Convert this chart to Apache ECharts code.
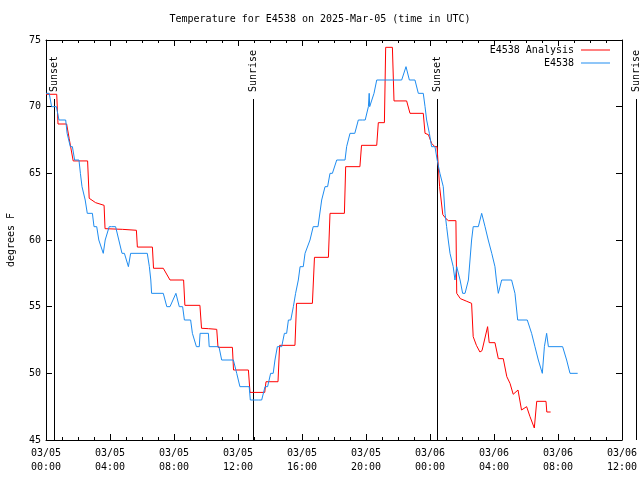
<!DOCTYPE html>
<html>
<head>
<meta charset="utf-8">
<script src="https://cdn.jsdelivr.net/npm/echarts@6/dist/echarts.min.js"></script>
<style>html,body{margin:0;padding:0;background:#fff}#c{width:640px;height:480px}</style>
</head>
<body>
<div id="c"></div>
<script>
// Hours since 2025-03-05 00:00 UTC
const titleText = 'Temperature for E4538 on 2025-Mar-05 (time in UTC)';
const xTickLabels = ['03/05\n00:00','03/05\n04:00','03/05\n08:00','03/05\n12:00','03/05\n16:00','03/05\n20:00','03/06\n00:00','03/06\n04:00','03/06\n08:00','03/06\n12:00'];
const yTickValues = [45, 50, 55, 60, 65, 70, 75];

const analysisHours = [0.0,0.67,0.75,1.29,1.45,1.7,2.6,2.7,3.1,3.63,3.69,4.77,4.8,5.65,5.71,6.65,6.72,7.33,7.75,8.6,8.68,9.62,9.72,10.15,10.67,10.75,11.65,11.72,12.65,12.75,13.67,13.75,14.5,14.6,15.56,15.66,16.65,16.78,17.65,17.75,18.65,18.73,19.62,19.72,20.67,20.77,21.15,21.23,21.65,21.75,22.54,22.75,23.58,23.69,23.9,24.1,24.3,24.44,24.6,24.8,25.0,25.15,25.62,25.67,25.9,26.3,26.6,26.7,26.9,27.12,27.25,27.6,27.7,28.06,28.27,28.58,28.8,29.0,29.2,29.5,29.72,30.04,30.25,30.52,30.67,31.25,31.3,31.54];
const analysisTemps = [70.93,70.93,68.7,68.7,67.6,65.93,65.93,63.13,62.8,62.6,60.85,60.8,60.73,60.73,59.47,59.47,57.88,57.88,57.0,57.0,55.1,55.1,53.38,53.35,53.3,51.95,51.95,50.25,50.25,48.57,48.57,49.37,49.37,52.1,52.1,55.25,55.25,58.7,58.7,62.0,62.0,65.5,65.5,67.1,67.1,68.8,68.8,74.45,74.45,70.43,70.43,69.5,69.5,68.0,67.9,67.25,67.0,67.0,64.0,61.9,61.6,61.45,61.45,56.0,55.6,55.4,55.25,52.75,52.1,51.6,51.7,53.5,52.3,52.3,51.1,51.1,49.75,49.25,48.43,48.75,47.25,47.5,46.75,45.9,47.9,47.9,47.1,47.1];

const obsHours = [0.0,0.2,0.35,0.5,0.65,0.81,1.23,1.32,1.4,1.52,1.65,1.79,2.06,2.15,2.25,2.35,2.45,2.58,2.9,3.0,3.17,3.3,3.42,3.58,3.7,3.79,3.95,4.1,4.35,4.55,4.75,4.9,5.15,5.29,6.33,6.46,6.55,6.6,7.33,7.55,7.75,8.12,8.33,8.54,8.65,9.04,9.15,9.25,9.4,9.5,9.58,9.63,10.15,10.2,10.81,10.98,11.71,11.92,12.12,12.7,12.77,13.27,13.48,13.69,13.85,14.04,14.2,14.31,14.46,14.73,14.9,15.04,15.15,15.3,15.46,15.6,15.77,15.88,16.08,16.19,16.3,16.5,16.7,17.0,17.23,17.44,17.6,17.75,17.9,18.17,18.69,18.79,18.9,19.0,19.3,19.52,19.79,19.95,20.15,20.2,20.23,20.35,20.5,20.67,22.23,22.5,22.71,23.06,23.27,23.58,23.69,23.79,23.96,24.1,24.31,24.45,24.52,24.62,24.73,24.83,24.94,25.04,25.14,25.25,25.35,25.45,25.56,25.67,25.88,26.04,26.19,26.4,26.5,26.6,26.7,27.02,27.23,27.44,27.64,27.86,28.06,28.15,28.27,28.38,28.48,29.1,29.31,29.48,30.08,30.35,30.56,30.77,31.02,31.15,31.29,31.4,31.5,32.29,32.54,32.75,33.23];
const obsTemps = [71,71,70,70,70,69,69,68,68,67,67,66,66,65,64,64,63,62,62,61,61,60,60,59,60,60,61,61,61,60,59,59,58,59,59,58,57,56,56,55,55,56,55,55,54,54,53,53,52,52,52,53,53,52,52,51,51,50,49,49,48,48,48,49,49,50,50,51,52,52,53,53,54,54,55,56,57,58,58,59,59,60,61,61,63,64,64,65,65,66,66,67,67,68,68,69,69,69,70,71,70,70,71,72,72,73,72,72,71,71,70,69,68,67,67,66,66,65,65,64,62,61,60,59,59,58,57,58,57,56,56,57,57,60,61,61,62,61,60,59,58,57,56,56,57,57,56,54,54,53,52,51,50,52,53,52,52,52,51,50,50];

const sunHours = [0.52, 12.96, 24.46, 36.87];
const sunLabels = ['Sunset', 'Sunrise', 'Sunset', 'Sunrise'];
const sunLineTop = 70.57;

const FONT = '"DejaVu Sans Mono", "Liberation Mono", monospace';
const FS = 10;

const zip = (a, b) => a.map((v, i) => [v, b[i]]);

const chart = echarts.init(document.getElementById('c'), null, {renderer: 'canvas'});

const axisBase = {
  type: 'value', min: 0, max: 36, interval: 4,
  axisLine: {show: true, onZero: false, lineStyle: {color: '#000', width: 1}},
  axisTick: {show: true, inside: true, length: 6, lineStyle: {color: '#000'}},
  minorTick: {show: true, splitNumber: 4, length: 3, lineStyle: {color: '#000'}},
  splitLine: {show: false}, minorSplitLine: {show: false}
};

chart.setOption({
  animation: false,
  backgroundColor: '#fff',
  title: {
    text: titleText, left: 'center', top: 14, padding: 0,
    textStyle: {fontFamily: FONT, fontSize: FS, fontWeight: 'normal', color: '#000'}
  },
  legend: {
    data: ['E4538 Analysis', 'E4538'],
    orient: 'vertical', right: 30, top: 44, padding: 0, itemGap: 1,
    align: 'right', icon: 'rect', itemWidth: 29, itemHeight: 1,
    textStyle: {fontFamily: FONT, fontSize: FS, color: '#000', lineHeight: 12, padding: [0, 2, 0, 0]}
  },
  grid: {left: 46, right: 18, top: 40, bottom: 40, containLabel: false, outerBoundsMode: 'none'},
  xAxis: [
    Object.assign({}, axisBase, {
      position: 'bottom',
      axisLabel: {
        margin: 6, fontFamily: FONT, fontSize: FS, color: '#000', lineHeight: 14,
        formatter: v => xTickLabels[Math.round(v / 4)]
      }
    }),
    Object.assign({}, axisBase, {position: 'top', axisLabel: {show: false}})
  ],
  yAxis: [
    {
      type: 'value', min: 45, max: 75, interval: 5, position: 'left',
      name: 'degrees F', nameLocation: 'middle', nameGap: 30, nameRotate: 90,
      nameTextStyle: {fontFamily: FONT, fontSize: FS, color: '#000'},
      axisLine: {show: true, onZero: false, lineStyle: {color: '#000'}},
      axisTick: {show: true, inside: true, length: 6, lineStyle: {color: '#000'}},
      axisLabel: {margin: 5, fontFamily: FONT, fontSize: FS, color: '#000',
        formatter: v => yTickValues.indexOf(v) >= 0 ? String(v) : ''},
      splitLine: {show: false}
    },
    {
      type: 'value', min: 45, max: 75, interval: 5, position: 'right',
      axisLine: {show: true, onZero: false, lineStyle: {color: '#000'}},
      axisTick: {show: true, inside: true, length: 6, lineStyle: {color: '#000'}},
      axisLabel: {show: false}, splitLine: {show: false}
    }
  ],
  series: [
    {
      type: 'custom', name: 'sun', silent: true, clip: false, z: 1,
      xAxisIndex: 0, yAxisIndex: 0,
      data: sunHours.map(h => [h, sunLineTop]),
      encode: {x: 0, y: 1},
      renderItem: function (params, api) {
        const p1 = api.coord([api.value(0), api.value(1)]);
        const p2 = api.coord([api.value(0), 45]);
        const x = Math.round(p1[0]) + 0.5;
        return {
          type: 'group',
          children: [
            {type: 'line', shape: {x1: x, y1: Math.round(p1[1]), x2: x, y2: p2[1]},
              style: {stroke: '#000', lineWidth: 1}},
            {type: 'text', x: x, y: Math.round(p1[1]) - 7, rotation: Math.PI / 2,
              style: {text: sunLabels[params.dataIndex], x: 0, y: 0, fill: '#000',
                font: FS + 'px ' + FONT, align: 'left', verticalAlign: 'middle'}}
          ]
        };
      }
    },
    {
      type: 'line', name: 'E4538 Analysis', data: zip(analysisHours, analysisTemps),
      showSymbol: false, symbol: 'none', z: 2,
      lineStyle: {color: '#ff0000', width: 1}, itemStyle: {color: '#ff0000'}
    },
    {
      type: 'line', name: 'E4538', data: zip(obsHours, obsTemps),
      showSymbol: false, symbol: 'none', z: 3,
      lineStyle: {color: '#1e8cf0', width: 1}, itemStyle: {color: '#1e8cf0'}
    }
  ]
});
</script>
</body>
</html>
